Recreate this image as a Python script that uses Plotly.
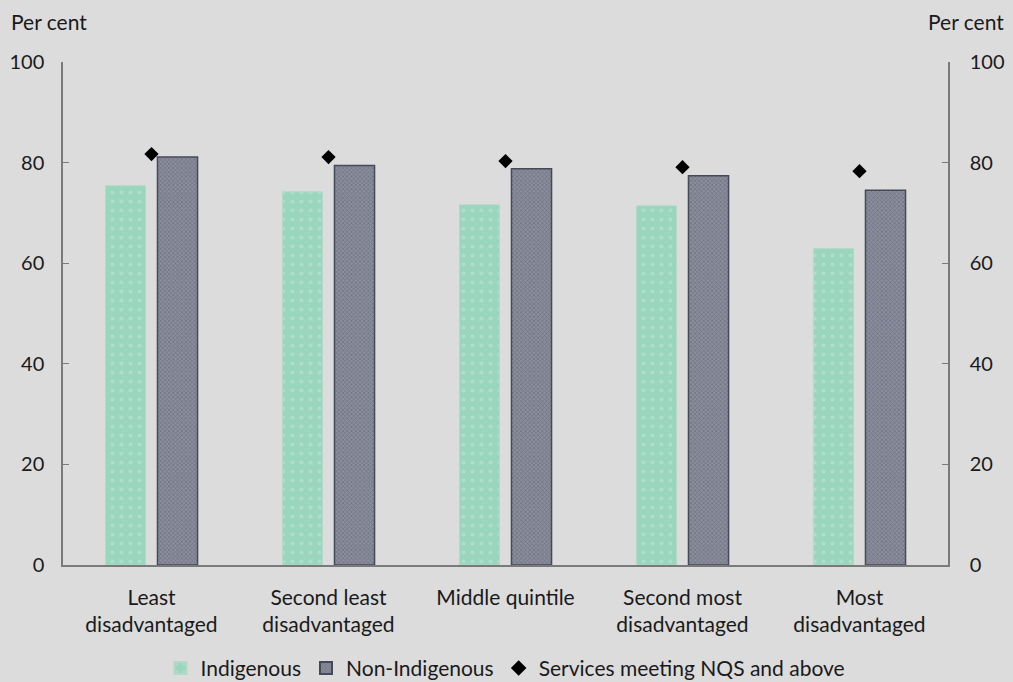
import plotly.graph_objects as go

categories = ["Least<br>disadvantaged", "Second least<br>disadvantaged", "Middle quintile",
              "Second most<br>disadvantaged", "Most<br>disadvantaged"]
indigenous = [75.4, 74.2, 71.6, 71.4, 62.9]
non_indigenous = [81.1, 79.4, 78.8, 77.4, 74.5]
nqs = [81.7, 81.1, 80.3, 79.1, 78.3]
y_ticks = [0, 20, 40, 60, 80, 100]

FONT = "Lato"
BG = "#dcdcdc"
AX = "#7a7a7a"
FS = 20
FT = 21

fig = go.Figure()
fig.add_trace(go.Bar(
    x=categories, y=indigenous, name="Indigenous",
    marker=dict(color="#9ad5bd", line=dict(color="#b3d9c9", width=1),
                pattern=dict(shape=".", fgcolor="#c2e6d7", bgcolor="#9ad5bd", size=9, solidity=0.15)),
))
fig.add_trace(go.Bar(
    x=categories, y=non_indigenous, name="Non-Indigenous",
    marker=dict(color="#767b8c", line=dict(color="#454a5a", width=1.5),
                pattern=dict(shape="x", fgcolor="#4e5364", bgcolor="#8a8e9c", size=3, solidity=0.4)),
))
fig.add_trace(go.Scatter(
    x=categories, y=nqs, name="Services meeting NQS and above", mode="markers",
    marker=dict(symbol="diamond", color="black", size=11), yaxis="y2",
))

fig.update_layout(
    width=1013, height=682,
    paper_bgcolor=BG, plot_bgcolor=BG,
    font=dict(family=FONT, size=FT, color="#1a1a1a"),
    margin=dict(l=63, r=65, t=62, b=117, autoexpand=False),
    barmode="group", bargap=0.412, bargroupgap=0.23,
    showlegend=True,
    legend=dict(orientation="h", x=0.5, xanchor="center", yref="container", y=0.02,
                yanchor="middle", font=dict(size=FT), itemsizing="constant",
                traceorder="normal", itemwidth=30, bgcolor="rgba(0,0,0,0)"),
    xaxis=dict(showline=True, linecolor=AX, linewidth=1.5, ticks="", showgrid=False,
               ticklabelstandoff=13, tickfont=dict(size=FT), automargin=False),
    yaxis=dict(range=[0, 100], tickvals=y_ticks, showline=True, linecolor=AX, linewidth=1.5,
               ticks="inside", ticklen=6, tickcolor=AX, showgrid=False, zeroline=False,
               ticklabelstandoff=13, tickfont=dict(size=FS), automargin=False),
    yaxis2=dict(range=[0, 100], tickvals=y_ticks, overlaying="y", side="right", showline=True,
                linecolor=AX, linewidth=1.5, ticks="inside", ticklen=6, tickcolor=AX,
                showgrid=False, zeroline=False, ticklabelstandoff=16, tickfont=dict(size=FS),
                automargin=False),
    annotations=[
        dict(text="Per cent", xref="paper", yref="paper", x=0, y=1.0, xshift=-54, yshift=55,
             xanchor="left", yanchor="top", showarrow=False, font=dict(size=FT)),
        dict(text="Per cent", xref="paper", yref="paper", x=1.0, y=1.0, xshift=58, yshift=55,
             xanchor="right", yanchor="top", showarrow=False, font=dict(size=FT)),
    ],
)

fig.write_html("out.html", config={"displayModeBar": False},
               post_script="document.body.style.margin='0';")
